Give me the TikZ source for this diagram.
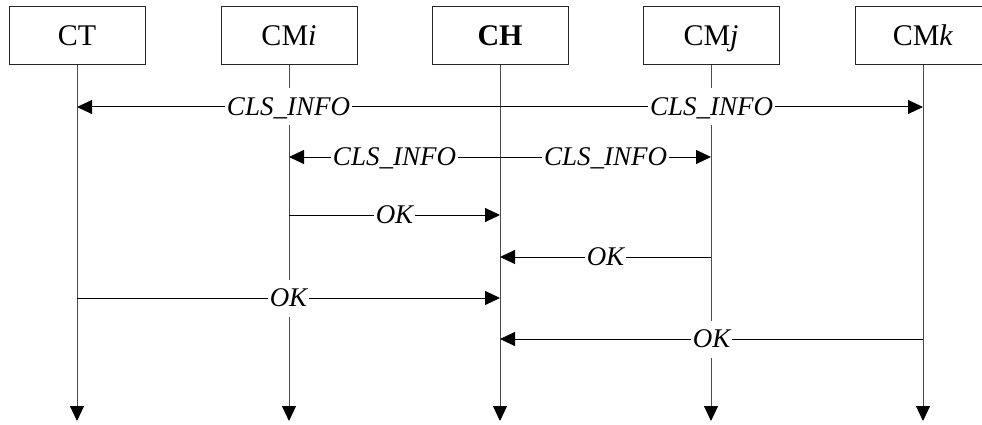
\documentclass[tikz,border=0pt]{standalone}
\usepackage{fontspec}
\setmainfont{Liberation Serif}
\usetikzlibrary{arrows.meta}
\begin{document}
\begin{tikzpicture}[x=1pt,y=-1pt,
  entity/.style={draw=black!85, line width=1pt, minimum width=136pt, minimum height=58pt,
    inner sep=0pt, text height=20pt, text depth=0pt, font=\fontsize{30}{32}\selectfont},
  tip/.style={-{Triangle[length=15pt,width=14pt,black]}},
  lifeline/.style={tip, draw=black!70, line width=1pt},
  msg/.style={tip, draw=black, line width=1pt},
  msglabel/.style={fill=white, inner xsep=2pt, inner ysep=0pt, minimum height=37pt,
    text height=17.5pt, text depth=0pt, font=\fontsize{27}{29}\selectfont\itshape}]
  \useasboundingbox (0,0) rectangle (982,425);
  \clip (0,0) rectangle (982,425);

  % participants
  \node[entity] (ct)  at (77,36)  {CT};
  \node[entity] (cmi) at (289,36) {CM\textit{i}};
  \node[entity] (ch)  at (500,36) {\textbf{CH}};
  \node[entity] (cmj) at (711,36) {CM\textit{j}};
  \node[entity] (cmk) at (923,36) {CM\textit{k}};

  % lifeline ends
  \coordinate (ctEnd)  at (77,421);
  \coordinate (cmiEnd) at (289,421);
  \coordinate (chEnd)  at (500,421);
  \coordinate (cmjEnd) at (711,421);
  \coordinate (cmkEnd) at (923,421);

  % message rows
  \coordinate (r1) at (0,107);
  \coordinate (r2) at (0,157);
  \coordinate (r3) at (0,215);
  \coordinate (r4) at (0,257);
  \coordinate (r5) at (0,298);
  \coordinate (r6) at (0,339);

  % lifelines
  \draw[lifeline] (ct)  -- (ctEnd);
  \draw[lifeline] (cmi) -- (cmiEnd);
  \draw[lifeline] (ch)  -- (chEnd);
  \draw[lifeline] (cmj) -- (cmjEnd);
  \draw[lifeline] (cmk) -- (cmkEnd);

  % messages
  \draw[msg] (ch |- r1) -- node[msglabel] {CLS\_INFO} (ct |- r1);
  \draw[msg] (ch |- r1) -- node[msglabel] {CLS\_INFO} (cmk |- r1);
  \draw[msg] (ch |- r2) -- node[msglabel] {CLS\_INFO} (cmi |- r2);
  \draw[msg] (ch |- r2) -- node[msglabel] {CLS\_INFO} (cmj |- r2);
  \draw[msg] (cmi |- r3) -- node[msglabel] {OK} (ch |- r3);
  \draw[msg] (cmj |- r4) -- node[msglabel] {OK} (ch |- r4);
  \draw[msg] (ct |- r5) -- node[msglabel] {OK} (ch |- r5);
  \draw[msg] (cmk |- r6) -- node[msglabel] {OK} (ch |- r6);
\end{tikzpicture}
\end{document}
